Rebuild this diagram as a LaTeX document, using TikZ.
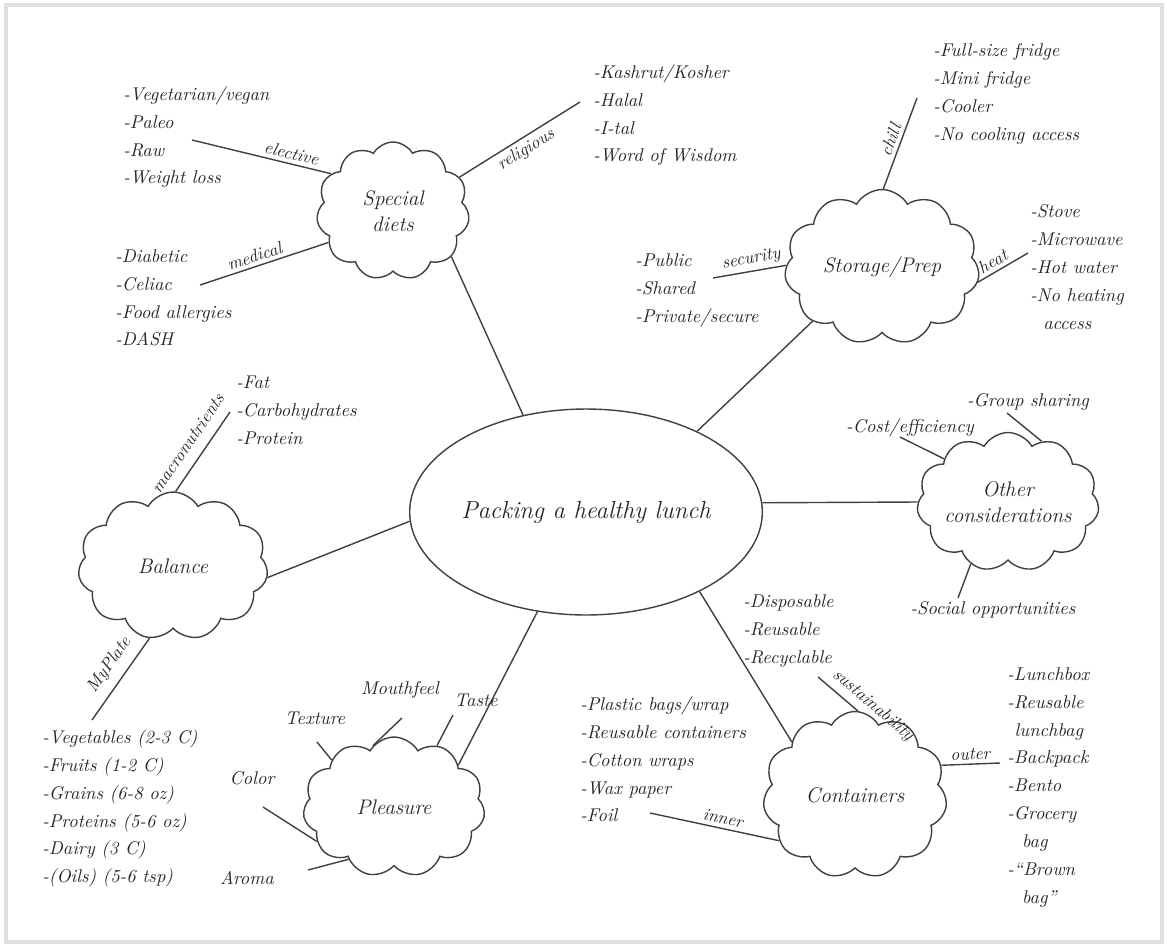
\documentclass[tikz,border=0pt]{standalone}
\usepackage{tikz}
\usetikzlibrary{shapes.symbols,shapes.geometric}
\begin{document}
\begin{tikzpicture}[x=0.02cm,y=-0.02cm]
\tikzstyle{puff}=[cloud,draw=black!75,line width=0.8pt,cloud puffs=11,cloud puff arc=120,cloud ignores aspect,inner sep=0pt,align=center,text=black!85,font=\fontsize{12}{15}\selectfont\itshape];
\tikzstyle{hub}=[ellipse,draw=black!75,line width=0.8pt,inner sep=0pt,minimum width=6.92cm,minimum height=4.12cm,text=black!85,font=\fontsize{14}{16}\selectfont\itshape];
\tikzstyle{items}=[anchor=north west,align=left,inner sep=0pt,text=black!85,font=\fontsize{10.5}{15.9}\selectfont\itshape];
\tikzstyle{note}=[inner sep=0pt,text=black!85,font=\fontsize{10.5}{13}\selectfont\itshape];
\tikzstyle{tag}=[sloped,inner sep=2pt,text=black!85,font=\fontsize{10}{12}\selectfont\itshape];
\tikzstyle{link}=[draw=black!75,line width=0.8pt];

\useasboundingbox (0,0) rectangle (1167,947);
\draw [black!12,line width=2pt] (6,5) rectangle (1162,942);

\node (v0) [hub] at (586,512) {Packing a healthy lunch};
\node (v1) [puff,minimum width=3.06cm,minimum height=2.76cm] at (393,211) {Special\\diets};
\node (v2) [puff,minimum width=3.9cm,minimum height=3.1cm] at (882,267) {Storage/Prep};
\node (v3) [puff,minimum width=3.6cm,minimum height=2.78cm] at (1008,502) {Other\\considerations};
\node (v4) [puff,minimum width=3.68cm,minimum height=3.34cm] at (855,795) {Containers};
\node (v5) [puff,minimum width=3.64cm,minimum height=2.8cm] at (394,807) {Pleasure};
\node (v6) [puff,minimum width=3.8cm,minimum height=2.96cm] at (173,566) {Balance};

\draw [link] (v0.123) -- (v1.-38);
\draw [link] (v0.36) -- (v2.218);
\draw [link] (v0.3) -- (v3.180);
\draw [link] (v0.-35) -- (v4.140);
\draw [link] (v0.-116) -- (v5.33);
\draw [link] (v0.183) -- (v6.-7);

\node (l1) [items] at (123,86) {-Vegetarian/vegan\\-Paleo\\-Raw\\-Weight loss};
\node (l2) [items] at (115,249) {-Diabetic\\-Celiac\\-Food allergies\\-DASH};
\node (l3) [items] at (593,64) {-Kashrut/Kosher\\-Halal\\-I-tal\\-Word of Wisdom};
\coordinate (e1) at (192,140);
\coordinate (e2) at (200,285);
\coordinate (e3) at (580,102);
\draw [link] (e1) -- node[tag,above,pos=0.7] {elective} (v1.149);
\draw [link] (e2) -- node[tag,above,pos=0.45] {medical} (v1.206);
\draw [link] (v1.27) -- node[tag,below,pos=0.5] {religious} (e3);

\node (l4) [items] at (933,43) {-Full-size fridge\\-Mini fridge\\-Cooler\\-No cooling access};
\node (l5) [items] at (1030,204) {-Stove\\-Microwave\\-Hot water\\-No heating\\\hspace*{0.7em}access};
\node (l6) [items] at (635,253) {-Public\\-Shared\\-Private/secure};
\coordinate (e4) at (917,98);
\coordinate (e5) at (1028,253);
\coordinate (e6) at (713,278);
\draw [link] (v2.89) -- node[tag,above,pos=0.5] {chill} (e4);
\draw [link] (v2.-9) -- node[tag,above,pos=0.4] {heat} (e5);
\draw [link] (e6) -- node[tag,above,pos=0.55] {security} (v2.179);

\node (t1) [note] at (910,428) {-Cost/efficiency};
\node (t2) [note] at (1028,402) {-Group sharing};
\node (t3) [note] at (993,610) {-Social opportunities};
\coordinate (e7) at (900,437);
\coordinate (e8) at (1007,413);
\coordinate (e9) at (958,598);
\draw [link] (e7) -- (v3.146);
\draw [link] (e8) -- (v3.61);
\draw [link] (e9) -- (v3.239);

\node (l7) [items] at (743,594) {-Disposable\\-Reusable\\-Recyclable};
\node (l8) [items] at (580,696) {-Plastic bags/wrap\\-Reusable containers\\-Cotton wraps\\-Wax paper\\-Foil};
\node (l9) [items] at (1007,667) {-Lunchbox\\-Reusable\\\hspace*{0.4em}lunchbag\\-Backpack\\-Bento\\-Grocery\\\hspace*{0.8em}bag\\-``Brown\\\hspace*{0.8em}bag''};
\coordinate (e10) at (818,677);
\coordinate (e11) at (650,813);
\coordinate (e12) at (1000,763);
\draw [link] (e10) -- node[tag,above=1pt,pos=1.15] {sustainability} (v4.88);
\draw [link] (e11) -- node[tag,above,pos=0.55] {inner} (v4.211);
\draw [link] (v4.19) -- node[tag,above,pos=0.5] {outer} (e12);

\node (t4) [note] at (315,718) {Texture};
\node (t5) [note] at (400,690) {Mouthfeel};
\node (t6) [note] at (476,700) {Taste};
\node (t7) [note] at (252,778) {Color};
\node (t8) [note] at (247,878) {Aroma};
\coordinate (e13) at (317,742);
\coordinate (e14) at (402,718);
\coordinate (e15) at (453,715);
\coordinate (e16) at (263,807);
\coordinate (e17) at (308,870);
\draw [link] (e13) -- (v5.143);
\draw [link] (e14) -- (v5.109);
\draw [link] (e15) -- (v5.55);
\draw [link] (e16) -- (v5.204);
\draw [link] (e17) -- (v5.229);

\node (l10) [items] at (236,376) {-Fat\\-Carbohydrates\\-Protein};
\node (l11) [items] at (42,729) {-Vegetables (2-3 C)\\-Fruits (1-2 C)\\-Grains (6-8 oz)\\-Proteins (5-6 oz)\\-Dairy (3 C)\\-(Oils) (5-6 tsp)};
\coordinate (e18) at (230,412);
\coordinate (e19) at (92,720);
\draw [link] (v6.88) -- node[tag,above=4pt,pos=0.48] {macronutrients} (e18);
\draw [link] (e19) -- node[tag,above=3pt,pos=0.55] {MyPlate} (v6.252);
\end{tikzpicture}
\end{document}
